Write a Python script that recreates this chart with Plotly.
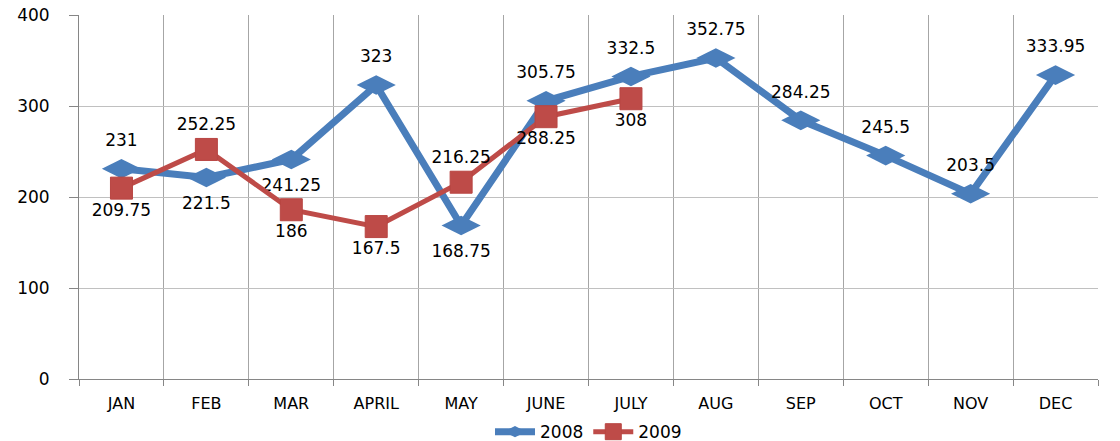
import plotly.graph_objects as go

months = ["JAN", "FEB", "MAR", "APRIL", "MAY", "JUNE", "JULY", "AUG", "SEP", "OCT", "NOV", "DEC"]
values_2008 = [231, 221.5, 241.25, 323, 168.75, 305.75, 332.5, 352.75, 284.25, 245.5, 203.5, 333.95]
values_2009 = [209.75, 252.25, 186, 167.5, 216.25, 288.25, 308]
months_2009 = months[:len(values_2009)]

pos_2008 = ["top center", "bottom center", "bottom center", "top center", "bottom center", "top center",
            "top center", "top center", "top center", "top center", "top center", "top center"]
pos_2009 = ["bottom center", "top center", "bottom center", "bottom center", "top center", "bottom center",
            "bottom center"]

blue = "#4A7EBB"
red = "#BE4B48"
font_family = "DejaVu Sans"

fig = go.Figure()
fig.add_trace(go.Scatter(
    x=months, y=values_2008, name="2008", mode="lines+markers+text",
    line=dict(color=blue, width=7),
    marker=dict(symbol="diamond-wide", size=28, color=blue),
    text=[f"{v:g}" for v in values_2008], textposition=pos_2008,
    textfont=dict(family=font_family, size=17, color="black"),
    cliponaxis=False,
))
fig.add_trace(go.Scatter(
    x=months_2009, y=values_2009, name="2009", mode="lines+markers+text",
    line=dict(color=red, width=5),
    marker=dict(symbol="square", size=22, color=red, line=dict(color="#B84542", width=1)),
    text=[f"{v:g}" for v in values_2009], textposition=pos_2009,
    textfont=dict(family=font_family, size=17, color="black"),
    cliponaxis=False,
))

fig.update_layout(
    width=1120, height=441,
    margin=dict(l=79, r=22, t=15, b=62, autoexpand=False),
    paper_bgcolor="white", plot_bgcolor="white",
    font=dict(family=font_family, size=16, color="black"),
    showlegend=True,
    legend=dict(orientation="h", x=0.5, xanchor="center", y=-0.146, yanchor="middle",
                font=dict(size=17), itemwidth=40, tracegroupgap=0),
)
fig.update_xaxes(
    type="category", categoryorder="array", categoryarray=months,
    range=[-0.5, 11.5], tickson="boundaries", automargin=False,
    showgrid=True, gridcolor="#A6A6A6", gridwidth=1,
    showline=True, linecolor="#868686", linewidth=1,
    ticks="outside", ticklen=6, tickcolor="#868686",
    tickfont=dict(size=16), zeroline=False, ticklabelstandoff=10,
)
fig.update_yaxes(
    range=[0, 400], dtick=100, tick0=0, automargin=False,
    showgrid=True, gridcolor="#C0C0C0", gridwidth=1,
    showline=True, linecolor="#868686", linewidth=1,
    ticks="outside", ticklen=9, tickcolor="#868686",
    tickfont=dict(size=17), zeroline=False, ticklabelstandoff=16,
)

fig.write_html("out.html", config={"displayModeBar": False},
               post_script="document.body.style.margin='0';document.body.style.overflow='hidden';")
